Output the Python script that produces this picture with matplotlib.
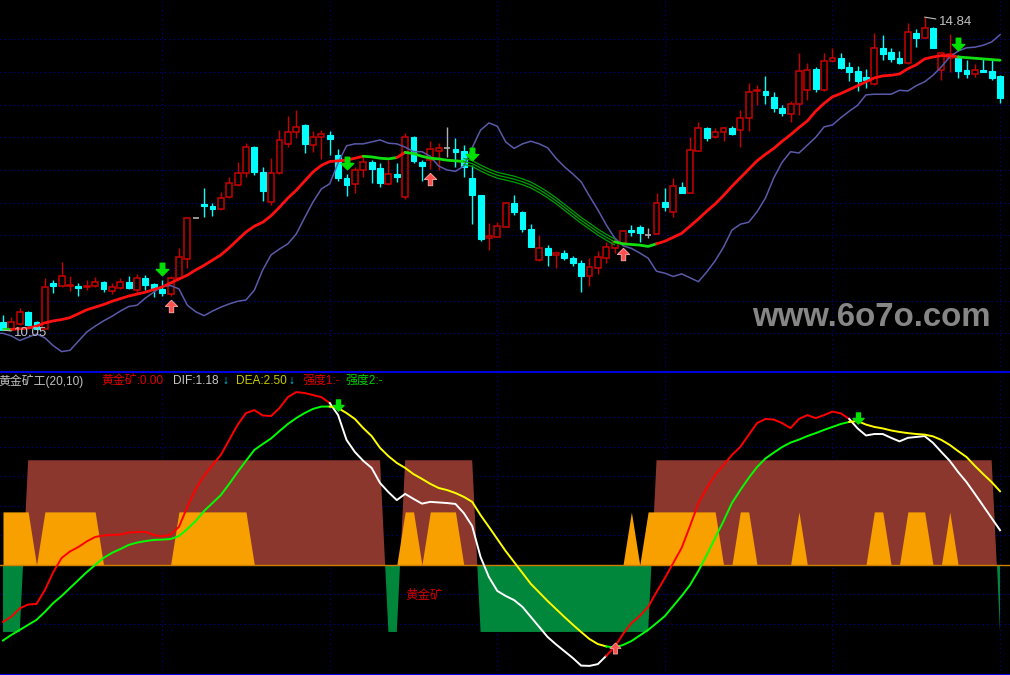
import numpy as np
import matplotlib
matplotlib.use("Agg")
import matplotlib.pyplot as plt
from matplotlib.patches import Rectangle
from matplotlib.path import Path
from matplotlib.transforms import offset_copy

# ---------------- data ----------------
open_ = [10.17, 10.07, 10.14, 10.33, 10.17, 10.07, 10.77, 10.72, 10.72, 10.72,
         10.71, 10.72, 10.79, 10.65, 10.69, 10.79, 10.66, 10.85, 10.75, 10.68,
         10.60, 10.85, 11.14, 11.77, 11.98, 11.95, 11.90, 12.09, 12.27, 12.45,
         12.85, 12.47, 12.01, 12.45, 12.90, 13.08, 13.19, 12.88, 13.00, 13.04,
         12.73, 12.38, 12.29, 12.50, 12.62, 12.53, 12.29, 12.44, 12.09, 13.00,
         12.62, 12.65, 12.79, 12.84, 12.82, 12.79, 12.38, 12.12, 11.46, 11.47,
         11.63, 11.99, 11.86, 11.60, 11.12, 11.31, 11.20, 11.23, 11.15, 11.08,
         10.88, 11.00, 11.15, 11.31, 11.38, 11.58, 11.63, 11.50, 11.52, 12.01,
         11.86, 12.24, 12.15, 12.79, 13.14, 13.00, 13.08, 13.14, 13.11, 13.30,
         13.71, 13.71, 13.62, 13.45, 13.36, 13.51, 13.72, 14.05, 13.72, 14.17,
         14.21, 14.08, 14.02, 13.92, 13.82, 14.37, 14.31, 14.21, 14.14, 14.60,
         14.52, 14.67, 14.03, 14.21, 14.21, 14.03, 13.97, 14.03, 14.02, 13.94]
high = [10.28, 10.25, 10.39, 10.34, 10.19, 10.85, 10.82, 11.09, 10.88, 10.77,
        10.82, 10.86, 10.80, 10.77, 10.85, 10.88, 10.91, 10.89, 10.77, 10.82,
        10.88, 11.31, 11.78, 11.77, 12.22, 12.00, 12.16, 12.39, 12.62, 12.91,
        12.87, 12.55, 12.68, 13.11, 13.33, 13.42, 13.20, 13.10, 13.11, 13.10,
        12.82, 12.44, 12.55, 12.70, 12.65, 12.61, 12.65, 12.61, 13.07, 13.02,
        12.65, 12.94, 12.91, 13.16, 12.99, 12.88, 12.58, 12.12, 11.69, 11.70,
        12.01, 12.12, 11.87, 11.67, 11.50, 11.35, 11.26, 11.28, 11.18, 11.12,
        11.15, 11.26, 11.40, 11.46, 11.58, 11.66, 11.66, 11.61, 12.15, 12.22,
        12.38, 12.32, 13.00, 13.23, 13.16, 13.14, 13.16, 13.17, 13.42, 13.83,
        13.80, 13.94, 13.69, 13.49, 13.56, 14.29, 14.14, 14.08, 14.29, 14.37,
        14.29, 14.15, 14.09, 14.05, 14.60, 14.57, 14.37, 14.32, 14.75, 14.66,
        14.84, 14.69, 14.31, 14.58, 14.26, 14.18, 14.12, 14.20, 14.18, 13.95]
low = [10.05, 10.06, 10.13, 10.11, 10.06, 10.06, 10.62, 10.71, 10.65, 10.57,
       10.66, 10.71, 10.63, 10.60, 10.68, 10.68, 10.62, 10.66, 10.56, 10.57,
       10.57, 10.83, 11.00, 11.77, 11.78, 11.80, 11.89, 12.07, 12.25, 12.39,
       12.42, 12.03, 11.96, 12.44, 12.85, 12.99, 12.76, 12.78, 12.67, 12.73,
       12.33, 12.10, 12.15, 12.39, 12.30, 12.24, 12.27, 12.32, 12.06, 12.61,
       12.33, 12.52, 12.50, 12.70, 12.55, 12.39, 11.67, 11.41, 11.28, 11.47,
       11.63, 11.81, 11.55, 11.32, 11.11, 11.03, 11.00, 11.12, 11.03, 10.63,
       10.72, 10.91, 11.08, 11.23, 11.37, 11.49, 11.40, 11.46, 11.52, 11.87,
       11.78, 12.15, 12.15, 12.79, 12.94, 12.99, 12.94, 13.04, 12.85, 13.10,
       13.50, 13.51, 13.39, 13.33, 13.23, 13.34, 13.57, 13.69, 13.71, 14.15,
       14.05, 13.86, 13.71, 13.75, 13.80, 14.18, 14.15, 14.12, 14.12, 14.38,
       14.52, 14.37, 13.88, 14.00, 13.91, 13.91, 13.92, 14.00, 13.88, 13.53]
close = [10.05, 10.17, 10.33, 10.13, 10.07, 10.71, 10.72, 10.88, 10.74, 10.69,
         10.72, 10.79, 10.68, 10.71, 10.79, 10.69, 10.85, 10.74, 10.68, 10.62,
         10.85, 11.17, 11.77, 11.77, 11.95, 11.90, 12.07, 12.30, 12.45, 12.85,
         12.47, 12.18, 12.45, 12.96, 13.08, 13.16, 12.90, 13.00, 13.05, 12.97,
         12.38, 12.27, 12.50, 12.62, 12.52, 12.30, 12.44, 12.39, 13.00, 12.64,
         12.56, 12.82, 12.84, 12.84, 12.78, 12.55, 12.12, 11.44, 11.49, 11.64,
         11.99, 11.86, 11.60, 11.32, 11.31, 11.20, 11.23, 11.15, 11.08, 10.88,
         11.02, 11.17, 11.32, 11.40, 11.57, 11.55, 11.54, 11.50, 11.99, 11.93,
         12.25, 12.15, 12.81, 13.14, 12.99, 13.08, 13.14, 13.05, 13.30, 13.69,
         13.72, 13.65, 13.45, 13.37, 13.51, 14.02, 14.03, 13.74, 14.17, 14.21,
         14.06, 14.00, 13.86, 13.88, 14.37, 14.28, 14.20, 14.14, 14.61, 14.52,
         14.67, 14.37, 14.29, 14.27, 14.02, 13.97, 14.03, 14.00, 13.91, 13.60]

# thick trend line (0 = red rising, 1 = green flat/falling, 2 = thin triple band)
trend_line = [10.06, 10.06, 10.07, 10.08, 10.11, 10.16, 10.19, 10.21, 10.24, 10.30,
              10.36, 10.40, 10.44, 10.49, 10.53, 10.57, 10.60, 10.63, 10.67, 10.71,
              10.77, 10.83, 10.89, 10.97, 11.04, 11.12, 11.20, 11.31, 11.43, 11.55,
              11.64, 11.70, 11.80, 11.93, 12.07, 12.19, 12.33, 12.47, 12.57, 12.63,
              12.64, 12.65, 12.68, 12.71, 12.70, 12.68, 12.67, 12.69, 12.77, 12.75,
              12.71, 12.68, 12.67, 12.65, 12.64, 12.63, 12.60, 12.53, 12.47, 12.42,
              12.39, 12.36, 12.32, 12.27, 12.20, 12.12, 12.03, 11.93, 11.83, 11.73,
              11.64, 11.55, 11.47, 11.40, 11.37, 11.36, 11.35, 11.33, 11.37, 11.41,
              11.47, 11.53, 11.64, 11.75, 11.87, 11.98, 12.11, 12.25, 12.38, 12.51,
              12.64, 12.74, 12.83, 12.94, 13.04, 13.15, 13.25, 13.40, 13.52, 13.62,
              13.67, 13.73, 13.79, 13.85, 13.91, 13.94, 13.95, 13.97, 14.05, 14.11,
              14.20, 14.23, 14.25, 14.25, 14.23, 14.22, 14.21, 14.20, 14.19, 14.18]
trend_state = [1, 1] + [0] * 42 + [1] * 4 + [0] + [1] * 7 + [2] * 18 + [1] * 5 + [0] * 36 + [1] * 5
band_spread = 0.045

lower_line = [10.00, 9.96, 9.89, 9.94, 9.99, 9.93, 9.81, 9.72, 9.74, 9.88,
              10.02, 10.11, 10.19, 10.26, 10.34, 10.41, 10.43, 10.54, 10.63, 10.72,
              10.73, 10.68, 10.43, 10.33, 10.27, 10.34, 10.40, 10.45, 10.49, 10.51,
              10.66, 10.97, 11.20, 11.29, 11.37, 11.52, 11.77, 12.01, 12.21, 12.29,
              12.61, 12.87, 12.90, 12.90, 12.93, 12.96, 12.91, 12.90, 12.85, 12.78,
              12.78, 12.71, 12.56, 12.50, 12.48, 12.56, 12.84, 13.11, 13.22, 13.17,
              12.93, 12.83, 12.90, 12.94, 12.90, 12.84, 12.68, 12.55, 12.44, 12.32,
              12.10, 11.89, 11.66, 11.46, 11.34, 11.30, 11.23, 11.15, 10.95, 10.92,
              10.87, 10.91, 10.85, 10.79, 10.94, 11.11, 11.32, 11.58, 11.67, 11.70,
              11.86, 12.07, 12.38, 12.62, 12.78, 12.76, 12.88, 13.00, 13.16, 13.19,
              13.30, 13.40, 13.49, 13.65, 13.66, 13.66, 13.66, 13.72, 13.71, 13.79,
              13.85, 13.95, 14.08, 14.23, 14.32, 14.37, 14.38, 14.41, 14.46, 14.57]

sell_bars = [19, 41, 56, 114]
buy_bars = [20, 51, 74]

dif = [-1.93, -1.75, -1.47, -1.34, -1.32, -0.85, -0.24, 0.24, 0.46, 0.61,
       0.80, 0.95, 1.00, 1.02, 1.03, 1.10, 1.12, 1.12, 1.02, 0.97,
       1.03, 1.29, 1.97, 2.58, 3.02, 3.39, 3.73, 4.24, 4.75, 5.15,
       5.25, 5.07, 5.05, 5.32, 5.69, 5.86, 5.83, 5.76, 5.69, 5.49,
       5.08, 4.24, 3.83, 3.53, 3.29, 2.78, 2.47, 2.20, 2.41, 2.24,
       2.08, 2.14, 2.12, 2.10, 2.07, 1.76, 1.32, 0.27, -0.41, -0.88,
       -1.05, -1.19, -1.42, -1.76, -2.10, -2.44, -2.69, -2.92, -3.15, -3.41,
       -3.42, -3.36, -3.08, -2.78, -2.34, -1.97, -1.73, -1.42, -0.92, -0.44,
       0.07, 0.58, 1.32, 2.10, 2.61, 3.05, 3.39, 3.73, 4.00, 4.41,
       4.81, 4.95, 4.93, 4.81, 4.64, 4.95, 5.08, 4.98, 5.08, 5.20,
       5.14, 4.95, 4.63, 4.39, 4.44, 4.44, 4.31, 4.19, 4.31, 4.34,
       4.37, 4.14, 3.83, 3.53, 3.15, 2.81, 2.41, 2.00, 1.59, 1.18]
dea = [-2.56, -2.37, -2.20, -2.03, -1.86, -1.59, -1.29, -1.05, -0.78, -0.51,
       -0.24, 0.00, 0.24, 0.41, 0.54, 0.68, 0.76, 0.81, 0.85, 0.86,
       0.88, 0.98, 1.22, 1.49, 1.83, 2.10, 2.37, 2.75, 3.15, 3.53,
       3.90, 4.10, 4.29, 4.54, 4.78, 4.98, 5.15, 5.29, 5.37, 5.37,
       5.32, 5.15, 4.95, 4.64, 4.37, 3.97, 3.69, 3.46, 3.29, 3.08,
       2.92, 2.75, 2.61, 2.54, 2.44, 2.31, 2.14, 1.69, 1.29, 0.88,
       0.47, 0.10, -0.27, -0.64, -0.93, -1.22, -1.49, -1.76, -2.02, -2.27,
       -2.51, -2.68, -2.76, -2.80, -2.71, -2.58, -2.39, -2.20, -1.97, -1.73,
       -1.39, -1.05, -0.68, -0.20, 0.34, 0.92, 1.49, 2.10, 2.54, 2.95,
       3.32, 3.61, 3.81, 4.00, 4.15, 4.25, 4.37, 4.47, 4.58, 4.68,
       4.78, 4.85, 4.88, 4.76, 4.68, 4.63, 4.56, 4.51, 4.47, 4.44,
       4.42, 4.36, 4.24, 4.07, 3.86, 3.66, 3.36, 3.08, 2.81, 2.50]

# gold-mine state per bar: 1 = brown block, -1 = green block
mine_state = [-1] * 3 + [1] * 43 + [-1] * 2 + [1] * 9 + [-1] * 21 + [1] * 41 + [-1]
# orange strength flag per bar
strength_flag = ([1] * 4 + [0] + [1] * 7 + [0] * 9 + [1] * 9 + [0] * 18 + [1] * 2 + [0]
                 + [1] * 4 + [0] * 20 + [1] + [0] + [1] * 9 + [0] * 2 + [1] * 2 + [0] * 5
                 + [1] + [0] * 8 + [1] * 2 + [0] * 2 + [1] * 3 + [0] * 2 + [1] + [0] * 6)
brown_level = 3.55
green_level = -2.27
orange_level = 1.80

top_grid = [10.0, 10.5, 11.0, 11.5, 12.0, 12.5, 13.0, 13.5, 14.0, 14.5]
bottom_grid = [-2, -1, 1, 2, 3, 4, 5]
vgrid_bars = [19, 39, 59, 79, 99, 119]

# ---------------- figure ----------------
plt.rcParams['font.family'] = ['Liberation Sans', 'Noto Sans CJK SC', 'DejaVu Sans']
W, H = 1010, 675
fig = plt.figure(figsize=(W / 100, H / 100), dpi=100, facecolor='black')
ax1 = fig.add_axes([0, 1 - 371 / H, 1, 371 / H])
ax2 = fig.add_axes([0, 0, 1, 303 / H])

n = len(close)
x = np.arange(n)
XL = (-0.358, 120.19)
GRID_C = '#0000A0'
for ax in (ax1, ax2):
    ax.set_facecolor('black')
    ax.set_xlim(*XL)
    ax.set_xticks(vgrid_bars)
    ax.tick_params(length=0, labelbottom=False, labelleft=False)
    ax.grid(True, color=GRID_C, linestyle=(0, (1, 3)), linewidth=0.8, zorder=0)
    ax.set_axisbelow(True)
    for s in ax.spines.values():
        s.set_visible(False)
ax1.set_yticks(top_grid)
ax1.set_ylim(9.423, 15.102)
ax2.set_yticks(bottom_grid)
ax2.set_ylim(-3.729, 6.542)
for side in ('top', 'bottom'):
    ax2.spines[side].set_visible(True)
    ax2.spines[side].set_color('#0000E0')
    ax2.spines[side].set_linewidth(1.5)

# watermark (behind the candles)
fig.text(752 / W, 1 - 318 / H, 'www.6o7o.com', color='#868686', fontsize=23.8,
         fontweight='bold', ha='left', va='center', family=['Liberation Sans'])

# ---------------- candles ----------------
UP = '#C80000'
DN = '#00FFFF'
DJ = '#B0B0B0'
bw = 0.70
for i in x:
    o, h, l, c = open_[i], high[i], low[i], close[i]
    if c > o:
        ax1.vlines(i, l, h, color=UP, lw=1.0, zorder=2)
        ax1.add_patch(Rectangle((i - bw / 2, o), bw, c - o, facecolor='black',
                                edgecolor=UP, lw=1.1, zorder=3))
    elif c < o:
        ax1.vlines(i, l, h, color=DN, lw=1.0, zorder=2)
        ax1.add_patch(Rectangle((i - bw / 2, c), bw, o - c, facecolor=DN,
                                edgecolor=DN, lw=0.8, zorder=3))
    else:
        ax1.vlines(i, l, h, color=DJ, lw=1.0, zorder=2)
        ax1.hlines(c, i - bw / 2, i + bw / 2, color=DJ, lw=1.2, zorder=3)


def runs(states):
    out = []
    start = 1
    for k in range(2, len(states) + 1):
        if k == len(states) or states[k] != states[start]:
            out.append((states[start], start - 1, k - 1))
            start = k
    return out


tl = np.array(trend_line)
ll = np.array(lower_line)
ax1.plot(np.r_[XL[0], x], np.r_[ll[0], ll], color='#5A5AAA', lw=1.1, zorder=4)
for st, a, b in runs(trend_state):
    seg = slice(a, b + 1)
    if st == 0:
        ax1.plot(x[seg], tl[seg], color='#FF1010', lw=2.0, zorder=5, solid_capstyle='round')
    elif st == 1:
        ax1.plot(x[seg], tl[seg], color='#10E010', lw=2.0, zorder=5, solid_capstyle='round')
    else:
        for off in (-band_spread, 0, band_spread):
            ax1.plot(x[seg], tl[seg] + off, color='#00A000', lw=0.9, zorder=5)

# signal arrows
down_arrow = Path([(-0.18, 0.5), (0.18, 0.5), (0.18, 0.0), (0.5, 0.0), (0.0, -0.5),
                   (-0.5, 0.0), (-0.18, 0.0), (-0.18, 0.5)],
                  [Path.MOVETO] + [Path.LINETO] * 6 + [Path.CLOSEPOLY])
up_arrow = Path([(-0.18, -0.5), (0.18, -0.5), (0.18, 0.0), (0.5, 0.0), (0.0, 0.5),
                 (-0.5, 0.0), (-0.18, 0.0), (-0.18, -0.5)],
                [Path.MOVETO] + [Path.LINETO] * 6 + [Path.CLOSEPOLY])
hi = np.array(high)
lo = np.array(low)
tr_up = offset_copy(ax1.transData, fig=fig, x=0, y=11, units='dots')
tr_dn = offset_copy(ax1.transData, fig=fig, x=0, y=-10, units='dots')
ax1.plot(sell_bars, hi[sell_bars], ls='none', marker=down_arrow, ms=9,
         mfc='#00E000', mec='#00E000', transform=tr_up, zorder=7)
ax1.plot(buy_bars, lo[buy_bars], ls='none', marker=up_arrow, ms=9,
         mfc='#FF5050', mec='#FFB0B0', mew=0.6, transform=tr_dn, zorder=7)

# extreme labels
imax = int(np.argmax(hi))
imin = int(np.argmin(lo))
ax1.annotate(f'{hi[imax]:.2f}', xy=(imax, hi[imax]), xytext=(14, -5),
             textcoords='offset pixels', ha='left', va='center', color='#C0C0C0',
             fontsize=9.5, arrowprops=dict(arrowstyle='-', color='#C0C0C0', lw=0.8,
                                           shrinkA=0, shrinkB=0), zorder=8)
ax1.annotate(f'{lo[imin]:.2f}', xy=(imin, lo[imin]), xytext=(11, -3),
             textcoords='offset pixels', ha='left', va='center', color='#C0C0C0',
             fontsize=9.5, arrowprops=dict(arrowstyle='-', color='#C0C0C0', lw=0.8,
                                           shrinkA=0, shrinkB=0), zorder=8)

# ---------------- bottom indicator ----------------
ms = np.array(mine_state)
mine = np.where(ms > 0, brown_level, green_level)
ax2.fill_between(x, 0, mine, where=mine >= 0, interpolate=True, color='#8C372D',
                 lw=0, zorder=1)
ax2.fill_between(x, 0, mine, where=mine <= 0, interpolate=True, color='#00873C',
                 lw=0, zorder=1)
ax2.fill_between(x, 0, np.array(strength_flag) * orange_level, color='#F7A000',
                 lw=0, zorder=2)
ax2.axhline(0, color='#D08000', lw=1.0, zorder=3)

d1 = np.array(dif)
d2 = np.array(dea)
above = (d1 >= d2).astype(int)
for st, a, b in runs(list(above)):
    seg = slice(a, b + 1)
    ax2.plot(x[seg], d1[seg], color='#FF0000' if st else '#FFFFFF', lw=1.4, zorder=5)
    ax2.plot(x[seg], d2[seg], color='#00FF00' if st else '#FFFF00', lw=1.4, zorder=5)

cross = np.nonzero(np.diff(above))[0] + 1
for k in cross:
    if above[k]:
        ax2.plot(k, d2[k], ls='none', marker=up_arrow, ms=8, mfc='#FF5050',
                 mec='#FFB0B0', mew=0.5, zorder=7)
    else:
        ax2.plot(k, d2[k], ls='none', marker=down_arrow, ms=8, mfc='#00E000',
                 mec='#00E000', zorder=7,
                 transform=offset_copy(ax2.transData, fig=fig, x=0, y=3, units='dots'))

ax2.text(48.0, -1.05, '黄金矿', color='#D00000', fontsize=9, ha='left', va='center',
         zorder=8)

# header
fs = 8.6
yh = 1 - 381 / H
header = [(-2, '黄金矿工(20,10)', '#C0C0C0'),
          (101.5, '黄金矿:0.00', '#E00000'),
          (173, f'DIF:{d1[-1]:.2f}', '#C8C8C8'),
          (222, '↓', '#00D8FF'),
          (236, f'DEA:{d2[-1]:.2f}', '#C8C800'),
          (288, '↓', '#00D8FF'),
          (302, '强度1:-', '#E00000'),
          (345, '强度2:-', '#00D000')]
for px, s, col in header:
    fig.text(px / W, yh, s, color=col, fontsize=fs, ha='left', va='center')

fig.savefig('out.png', dpi=100, facecolor='black')
